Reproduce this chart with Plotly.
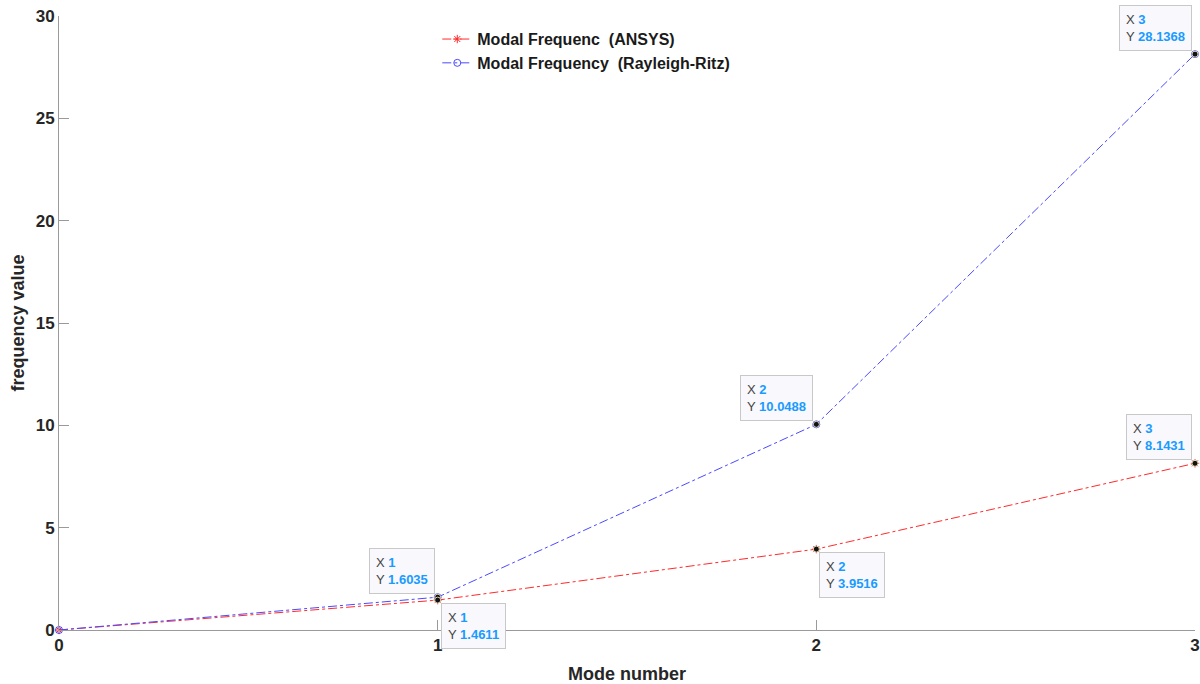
import plotly.graph_objects as go

# Mode numbers and natural frequencies from the two methods
modes = [0, 1, 2, 3]
freq_ansys = [0, 1.4611, 3.9516, 8.1431]
freq_rr = [0, 1.6035, 10.0488, 28.1368]
x_ticks = [0, 1, 2, 3]
y_ticks = [0, 5, 10, 15, 20, 25, 30]

# Data-tip callouts: (series, index, x-anchor, y-anchor)
tips = [
    (freq_rr, 1, "right", "bottom"),
    (freq_ansys, 1, "left", "top"),
    (freq_rr, 2, "right", "bottom"),
    (freq_ansys, 2, "left", "top"),
    (freq_rr, 3, "right", "bottom"),
    (freq_ansys, 3, "right", "bottom"),
]

fig = go.Figure()

fig.add_trace(go.Scatter(
    x=modes, y=freq_ansys, mode="lines+markers",
    name="Modal Frequenc  (ANSYS)",
    line=dict(color="#ff2a2a", width=1, dash="dashdot"),
    marker=dict(symbol="asterisk-open", size=7, color="#ff2a2a",
                line=dict(color="#ff2a2a", width=1)),
    cliponaxis=False,
))
fig.add_trace(go.Scatter(
    x=modes, y=freq_rr, mode="lines+markers",
    name="Modal Frequency  (Rayleigh-Ritz)",
    line=dict(color="#4a4aff", width=1, dash="dashdot"),
    marker=dict(symbol="circle-open", size=7, color="#4a4aff",
                line=dict(color="#4a4aff", width=1)),
    cliponaxis=False,
))

# Highlighted data-tip points
tip_x = [modes[i] for _, i, _, _ in tips]
tip_y = [s[i] for s, i, _, _ in tips]
fig.add_trace(go.Scatter(
    x=tip_x, y=tip_y, mode="markers", showlegend=False, hoverinfo="skip",
    marker=dict(symbol="circle", size=6, color="#111111",
                line=dict(color="#d8d4b0", width=1)),
    cliponaxis=False,
))

for series, i, xa, ya in tips:
    xs = -3 if xa == "right" else 3
    ys = 3 if ya == "bottom" else -3
    fig.add_annotation(
        x=modes[i], y=series[i], xref="x", yref="y",
        xanchor=xa, yanchor=ya, xshift=xs, yshift=ys,
        showarrow=False, align="left",
        text=(f"X <b><span style='color:#1a9bff'>{modes[i]}</span></b><br>"
              f"Y <b><span style='color:#1a9bff'>{series[i]:.4f}</span></b>"),
        font=dict(family="Liberation Sans, Arial, sans-serif", size=13, color="#444444"),
        bgcolor="#f8f8fd", bordercolor="#c8c8c8", borderwidth=1, borderpad=6,
    )

axis_common = dict(
    showgrid=False, zeroline=False, showline=True, linecolor="#9a9a9a", linewidth=1,
    ticks="inside", ticklen=10, tickcolor="#9a9a9a", tickwidth=1,
    automargin=False,
    tickfont=dict(family="Liberation Sans, Arial, sans-serif", size=17,
                  color="#262626", weight="bold"),
    title_font=dict(family="Liberation Sans, Arial, sans-serif", size=18,
                    color="#262626", weight="bold"),
)

fig.update_xaxes(range=[0, 3], tickvals=x_ticks, title_text="Mode number",
                 title_standoff=12, **axis_common)
fig.update_yaxes(range=[0, 30], tickvals=y_ticks, title_text="frequency value",
                 title_standoff=6, **axis_common)

fig.update_layout(
    width=1200, height=684,
    margin=dict(l=59, r=5, t=16, b=54, autoexpand=False),
    plot_bgcolor="white", paper_bgcolor="white",
    legend=dict(x=0.333, y=0.99, xanchor="left", yanchor="top",
                bgcolor="rgba(255,255,255,0)", borderwidth=0,
                font=dict(family="Liberation Sans, Arial, sans-serif", size=16,
                          color="#1a1a1a", weight="bold"),
                tracegroupgap=2),
    showlegend=True,
)

fig.write_html("out.html")
